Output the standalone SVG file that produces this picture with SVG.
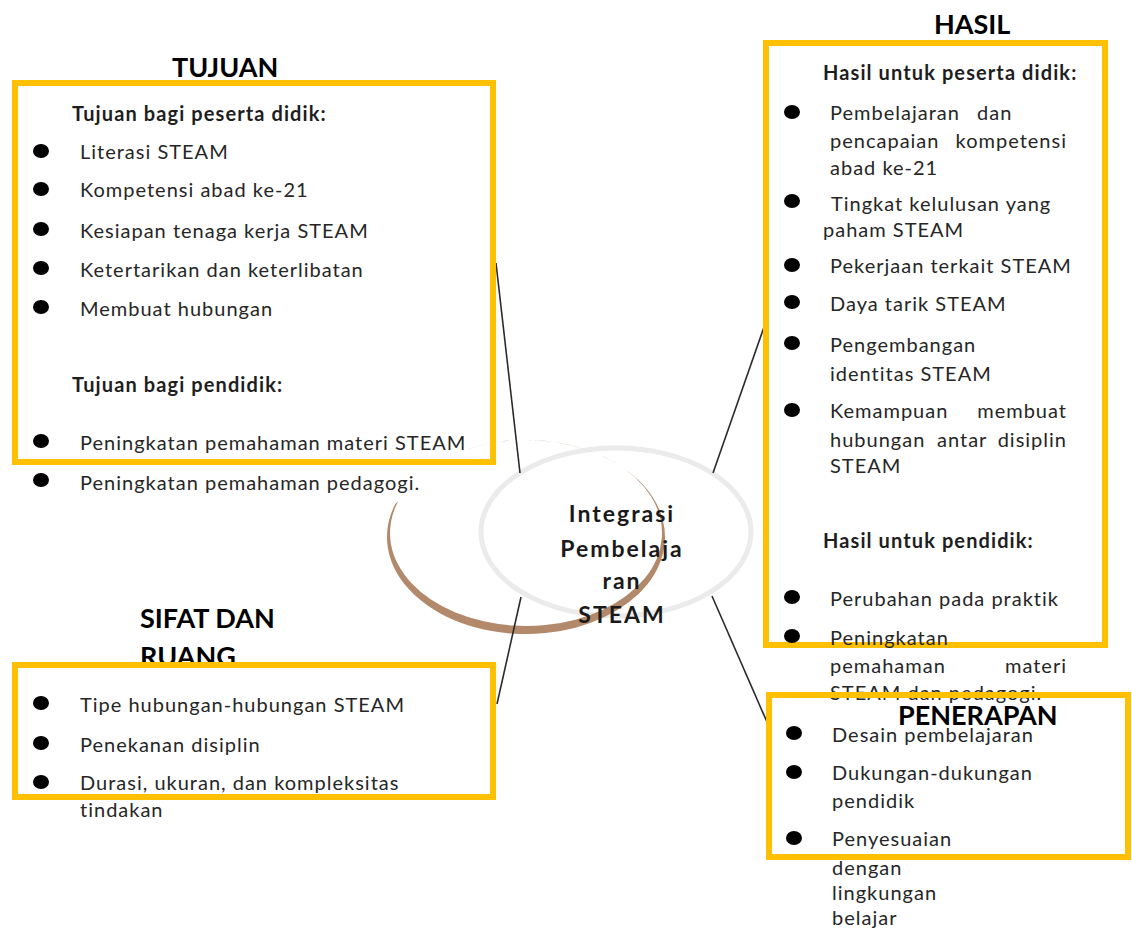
<svg xmlns="http://www.w3.org/2000/svg" width="1132" height="930" viewBox="0 0 1132 930">
  <style>
    .title { font-family: Lato, "Liberation Sans", sans-serif; font-weight: bold; font-size: 27px; fill: #000; }
    .head { font-family: Lato, "Liberation Sans", sans-serif; font-weight: bold; font-size: 20px; letter-spacing: 1.1px; fill: #1e1e1e; }
    .body { font-family: Lato, "Liberation Sans", sans-serif; font-size: 20px; letter-spacing: 1px; fill: #262626; }
    .center { font-family: Lato, "Liberation Sans", sans-serif; font-weight: bold; font-size: 23px; letter-spacing: 2px; fill: #1a1a1a; text-anchor: middle; }
    .box { fill: none; stroke: #FFC000; stroke-width: 6; }
    .link { stroke: #2a2a2a; stroke-width: 1.6; fill: none; }
    .dot { fill: #000; }
    .end { text-anchor: end; }
  </style>
  <rect width="1132" height="930" fill="#fff"/>

  <!-- central hub -->
  <g id="hub">
    <ellipse cx="616" cy="532" rx="135" ry="84" fill="none" stroke="#ebebeb" stroke-width="5"/>
    <path d="M467.3,449.1 A139,97 0 1 1 395.4,503.8 L398.2,501.2 A136,93 0 1 0 468.5,448.7 Z" fill="#b3896b"/>
    <text class="center" x="622" y="522">Integrasi</text>
    <text class="center" x="622" y="557">Pembelaja</text>
    <text class="center" x="622" y="589">ran</text>
    <text class="center" x="622" y="623">STEAM</text>
  </g>

  <!-- spokes from the hub to each panel -->
  <g id="connectors">
    <line class="link" x1="520" y1="473" x2="496" y2="263"/>
    <line class="link" x1="713" y1="473" x2="764" y2="327"/>
    <line class="link" x1="521" y1="597" x2="497" y2="704"/>
    <line class="link" x1="712" y1="596" x2="767" y2="722"/>
  </g>

  <!-- TUJUAN panel -->
  <g id="tujuan">
    <text class="title" x="172" y="77">TUJUAN</text>
    <rect class="box" x="15" y="83" width="478" height="379"/>
    <text class="head" x="72" y="121">Tujuan bagi peserta didik:</text>
    <ellipse class="dot" cx="41" cy="151" rx="8" ry="7"/>
    <text class="body" x="80" y="159">Literasi STEAM</text>
    <ellipse class="dot" cx="41" cy="189" rx="8" ry="7"/>
    <text class="body" x="80" y="197">Kompetensi abad ke-21</text>
    <ellipse class="dot" cx="41" cy="229" rx="8" ry="7"/>
    <text class="body" x="80" y="238">Kesiapan tenaga kerja STEAM</text>
    <ellipse class="dot" cx="41" cy="268" rx="8" ry="7"/>
    <text class="body" x="80" y="277">Ketertarikan dan keterlibatan</text>
    <ellipse class="dot" cx="41" cy="307" rx="8" ry="7"/>
    <text class="body" x="80" y="316">Membuat hubungan</text>
    <text class="head" x="72" y="392">Tujuan bagi pendidik:</text>
    <ellipse class="dot" cx="41" cy="441" rx="8" ry="7"/>
    <text class="body" x="80" y="450">Peningkatan pemahaman materi STEAM</text>
    <ellipse class="dot" cx="41" cy="480" rx="8" ry="7"/>
    <text class="body" x="80" y="490">Peningkatan pemahaman pedagogi.</text>
  </g>

  <!-- SIFAT DAN RUANG panel -->
  <g id="sifat">
    <text class="title" x="140" y="628">SIFAT DAN</text>
    <text class="title" x="140" y="666">RUANG</text>
    <rect x="15" y="665" width="478" height="132" fill="#fff" stroke="#FFC000" stroke-width="6"/>
    <ellipse class="dot" cx="41" cy="703" rx="8" ry="7"/>
    <text class="body" x="80" y="712">Tipe hubungan-hubungan STEAM</text>
    <ellipse class="dot" cx="41" cy="743" rx="8" ry="7"/>
    <text class="body" x="80" y="752">Penekanan disiplin</text>
    <ellipse class="dot" cx="41" cy="782" rx="8" ry="7"/>
    <text class="body" x="80" y="790">Durasi, ukuran, dan kompleksitas</text>
    <text class="body" x="80" y="817">tindakan</text>
  </g>

  <!-- HASIL panel -->
  <g id="hasil">
    <text class="title" x="934" y="34">HASIL</text>
    <rect class="box" x="766" y="43" width="339" height="602"/>
    <text class="head" x="823" y="80">Hasil untuk peserta didik:</text>
    <ellipse class="dot" cx="792" cy="112" rx="8" ry="7"/>
    <text class="body" x="830" y="120">Pembelajaran</text>
    <text class="body" x="977" y="120">dan</text>
    <text class="body" x="830" y="148">pencapaian</text>
    <text class="body end" x="1067" y="148">kompetensi</text>
    <text class="body" x="830" y="175">abad ke-21</text>
    <ellipse class="dot" cx="792" cy="201" rx="8" ry="7"/>
    <text class="body" x="831" y="211">Tingkat kelulusan yang</text>
    <text class="body" x="823" y="237">paham STEAM</text>
    <ellipse class="dot" cx="792" cy="265" rx="8" ry="7"/>
    <text class="body" x="830" y="273">Pekerjaan terkait STEAM</text>
    <ellipse class="dot" cx="792" cy="302" rx="8" ry="7"/>
    <text class="body" x="830" y="311">Daya tarik STEAM</text>
    <ellipse class="dot" cx="792" cy="343" rx="8" ry="7"/>
    <text class="body" x="830" y="352">Pengembangan</text>
    <text class="body" x="830" y="381">identitas STEAM</text>
    <ellipse class="dot" cx="792" cy="410" rx="8" ry="7"/>
    <text class="body" x="830" y="418">Kemampuan</text>
    <text class="body end" x="1067" y="418">membuat</text>
    <text class="body" x="830" y="447">hubungan</text>
    <text class="body" x="937" y="447">antar</text>
    <text class="body end" x="1067" y="447">disiplin</text>
    <text class="body" x="830" y="473">STEAM</text>
    <text class="head" x="823" y="548">Hasil untuk pendidik:</text>
    <ellipse class="dot" cx="792" cy="597" rx="8" ry="7"/>
    <text class="body" x="830" y="606">Perubahan pada praktik</text>
    <ellipse class="dot" cx="792" cy="636" rx="8" ry="7"/>
    <text class="body" x="830" y="645">Peningkatan</text>
    <text class="body" x="830" y="673">pemahaman</text>
    <text class="body end" x="1067" y="673">materi</text>
    <text class="body" x="830" y="700">STEAM dan pedagogi.</text>
  </g>

  <!-- PENERAPAN panel -->
  <g id="penerapan">
    <rect class="box" x="769" y="695" width="359" height="162"/>
    <text class="title" x="898" y="725">PENERAPAN</text>
    <ellipse class="dot" cx="794" cy="733" rx="8" ry="7"/>
    <text class="body" x="832" y="742">Desain pembelajaran</text>
    <ellipse class="dot" cx="794" cy="772" rx="8" ry="7"/>
    <text class="body" x="832" y="780">Dukungan-dukungan</text>
    <text class="body" x="832" y="808">pendidik</text>
    <ellipse class="dot" cx="794" cy="838" rx="8" ry="7"/>
    <text class="body" x="832" y="846">Penyesuaian</text>
    <text class="body" x="832" y="875">dengan</text>
    <text class="body" x="832" y="900">lingkungan</text>
    <text class="body" x="832" y="925">belajar</text>
  </g>
</svg>
